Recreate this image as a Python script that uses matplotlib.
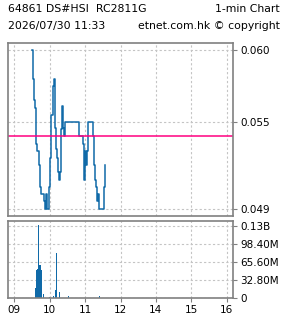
import matplotlib
matplotlib.use("Agg")
import matplotlib.pyplot as plt

# price steps: minutes since 09:00 and price
price_min = [30, 31, 32, 33, 35, 37, 38, 42, 44, 46, 50, 52, 54, 55, 59, 60, 62, 66, 67,
             69, 71, 72, 74, 76, 77, 79, 81, 83, 84, 86, 110, 116, 118, 120, 121, 123, 125,
             133, 135, 137, 138, 140, 142, 144, 152, 153]
price_val = [0.0600, 0.0595, 0.0580, 0.0565, 0.0560, 0.0535, 0.0530, 0.0520, 0.0505, 0.0500,
             0.0495, 0.0490, 0.0500, 0.0490, 0.0505, 0.0525, 0.0555, 0.0575, 0.0580,
             0.0546, 0.0531, 0.0525, 0.0515, 0.0510, 0.0515, 0.0545, 0.0561, 0.0546, 0.0540,
             0.0550, 0.0540, 0.0535, 0.0510, 0.0530, 0.0520, 0.0530, 0.0550,
             0.0540, 0.0520, 0.0510, 0.0505, 0.0495, 0.0500, 0.0490, 0.0505, 0.0520]
prev_close = 0.054

vol_min = [36, 37, 38, 39, 40, 41, 42, 43, 44, 46, 47, 49, 50, 60, 67, 70, 72, 76, 92, 144]
vol_val = [18e6, 50e6, 50e6, 53e6, 53e6, 132e6, 60e6, 60e6, 60e6, 50e6, 18e6, 8e6, 2e6,
           2e6, 4e6, 14e6, 82e6, 10e6, 4e6, 3e6]

price_ticks = [0.049, 0.055, 0.060]
price_labels = ["0.049", "0.055", "0.060"]
vol_ticks = [0, 32.8e6, 65.6e6, 98.4e6, 131.2e6]
vol_labels = ["0", "32.80M", "65.60M", "98.40M", "0.13B"]
hour_ticks = [0, 60, 120, 180, 240, 300, 360]
hour_labels = ["09", "10", "11", "12", "14", "15", "16"]

blue = "#106aa8"
grid_kw = dict(color="#c4c4c4", linestyle=(0, (2, 2)), linewidth=0.8)
fs = 7.5

fig = plt.figure(figsize=(2.85, 3.18), dpi=100)
ax = fig.add_axes([8 / 285, 1 - 216 / 318, 225 / 285, 173 / 318])
axv = fig.add_axes([8 / 285, 1 - 298 / 318, 225 / 285, 77 / 318])

ax.plot(price_min, price_val, drawstyle="steps-post", color=blue, linewidth=1.1)
ax.axhline(prev_close, color="#ff0080", linewidth=1.1)
ax.set_ylim(0.04848, 0.06048)
ax.set_yticks(price_ticks)
ax.set_yticklabels(price_labels)

axv.bar(vol_min, vol_val, width=1.3, color=blue, linewidth=0)
axv.set_ylim(0, 139.8e6)
axv.set_yticks(vol_ticks)
axv.set_yticklabels(vol_labels)

for a in (ax, axv):
    a.set_xlim(-10.7, 370.7)
    a.set_xticks(hour_ticks)
    a.grid(True, **grid_kw)
    a.set_axisbelow(True)
    a.yaxis.tick_right()
    a.tick_params(axis="both", length=3, width=0.8, color="#808080",
                  labelsize=fs, pad=2)
    for s in a.spines.values():
        s.set_color("#808080")
        s.set_linewidth(1.2)
ax.set_xticklabels([])
ax.tick_params(axis="x", length=0)
axv.set_xticklabels(hour_labels)

fig.text(8 / 285, 1 - 9 / 318, "64861 DS#HSI  RC2811G", fontsize=fs + 0.3, va="center")
fig.text(280 / 285, 1 - 9 / 318, "1-min Chart", fontsize=fs + 0.3, va="center", ha="right")
fig.text(8 / 285, 1 - 26 / 318, "2026/07/30 11:33", fontsize=fs + 0.3, va="center")
fig.text(280 / 285, 1 - 26 / 318, "etnet.com.hk \u00a9 copyright", fontsize=fs + 0.3,
         va="center", ha="right")

fig.savefig("out.png", dpi=100)
